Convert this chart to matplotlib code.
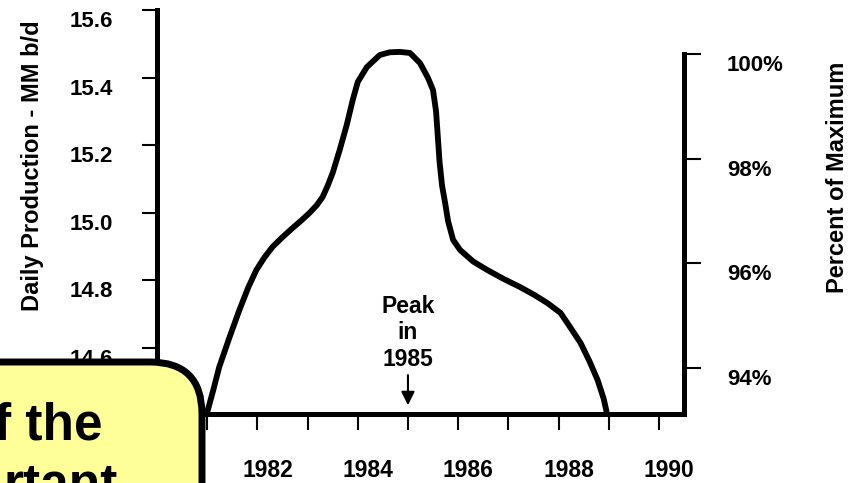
import matplotlib
matplotlib.use("Agg")
import matplotlib.pyplot as plt
import matplotlib.transforms as mtransforms
from matplotlib.patches import FancyBboxPatch

plt.rcParams['font.family'] = ['Liberation Sans', 'DejaVu Sans']
plt.rcParams['font.weight'] = 'bold'

# ==========================================
# Data
# ==========================================

years = [1981.00, 1981.12, 1981.24, 1981.44, 1981.64, 1981.82, 1981.98, 1982.14,
         1982.30, 1982.50, 1982.70, 1982.88, 1983.04, 1983.18, 1983.30, 1983.40,
         1983.50, 1983.64, 1983.78, 1983.90, 1984.00, 1984.18, 1984.44, 1984.64,
         1984.84, 1985.04, 1985.24, 1985.40, 1985.50, 1985.56, 1985.60, 1985.63,
         1985.68, 1985.74, 1985.80, 1985.90, 1986.04, 1986.30, 1986.58, 1986.90,
         1987.24, 1987.52, 1987.78, 1988.04, 1988.24, 1988.44, 1988.62, 1988.78,
         1988.90, 1988.96]
production = [14.410, 14.475, 14.544, 14.630, 14.712, 14.780, 14.831, 14.868,
              14.899, 14.928, 14.955, 14.978, 15.000, 15.022, 15.047, 15.080,
              15.118, 15.186, 15.260, 15.334, 15.387, 15.431, 15.467, 15.475,
              15.476, 15.473, 15.443, 15.399, 15.363, 15.300, 15.215, 15.150,
              15.080, 15.030, 14.975, 14.920, 14.890, 14.856, 14.831, 14.805,
              14.780, 14.757, 14.733, 14.704, 14.660, 14.615, 14.560, 14.505,
              14.450, 14.410]

peak_value = 15.47          # 100% on the right axis
peak_year = 1985

left_ticks = [14.6, 14.8, 15.0, 15.2, 15.4, 15.6]
left_labels = ["14.6", "14.8", "15.0", "15.2", "15.4", "15.6"]
right_ticks = [94, 96, 98, 100]
right_labels = ["94%", "96%", "98%", "100%"]
x_ticks = [1981, 1982, 1983, 1984, 1985, 1986, 1987, 1988, 1989, 1990]
x_labels = ["", "1982", "", "1984", "", "1986", "", "1988", "", "1990"]

# ==========================================
# Figure
# ==========================================

W, H = 863, 483
fig = plt.figure(figsize=(W / 100, H / 100), dpi=100)
ax = fig.add_axes([157 / W, 1 - 414 / H, 527 / W, 404 / H])

ymin, ymax = 14.405, 15.6
ax.set_xlim(1980, 1990.5)
ax.set_ylim(ymin, ymax)

ax.plot(years, production, color='black', lw=4.2, solid_joinstyle='round',
        solid_capstyle='butt', zorder=3)

for side in ['top', 'right']:
    ax.spines[side].set_visible(False)
for side in ['left', 'bottom']:
    ax.spines[side].set_linewidth(3.6)

ax.set_yticks(left_ticks)
ax.set_yticklabels(left_labels)
ax.tick_params(axis='y', direction='out', length=11, width=1.5, pad=21,
               labelsize=16)
ax.set_xticks(x_ticks)
ax.set_xticklabels(x_labels)
ax.tick_params(axis='x', direction='out', length=11.5, width=1.5, pad=21,
               labelsize=16.5)

down = mtransforms.ScaledTranslation(0, -9 / 100, fig.dpi_scale_trans)
right = mtransforms.ScaledTranslation(10 / 100, 0, fig.dpi_scale_trans)
for lab in ax.get_yticklabels():
    lab.set_transform(lab.get_transform() + down)
for lab in ax.get_xticklabels():
    lab.set_transform(lab.get_transform() + right)

# right axis: percent of maximum
ax2 = ax.twinx()
ax2.set_ylim(ymin / peak_value * 100, ymax / peak_value * 100)
for side in ['top', 'left', 'bottom']:
    ax2.spines[side].set_visible(False)
ax2.spines['right'].set_linewidth(3.6)
ax2.spines['right'].set_bounds(ymin / peak_value * 100, 100)
ax2.set_yticks(right_ticks)
ax2.set_yticklabels(right_labels)
ax2.tick_params(axis='y', direction='out', length=12, width=1.5, pad=19,
                labelsize=16)
for lab in ax2.get_yticklabels():
    lab.set_transform(lab.get_transform() + down)

# axis titles
fig.text(32 / W, 1 - 166 / H, "Daily Production - MM b/d", rotation=90,
         ha='center', va='center', fontsize=17, fontweight='bold')
fig.text(837 / W, 1 - 177 / H, "Percent of Maximum", rotation=90,
         ha='center', va='center', fontsize=17, fontweight='bold')

# peak annotation
ax.text(peak_year, 14.645, "Peak\nin\n1985", ha='center', va='center',
        fontsize=16.5, fontweight='bold')
ax.annotate('', xy=(peak_year, 14.431), xytext=(peak_year, 14.52),
            arrowprops=dict(arrowstyle='-|>', color='black', lw=1.5,
                            mutation_scale=20, shrinkA=0, shrinkB=0))

# yellow call-out box covering the lower left
box = FancyBboxPatch((-80, -90), 282, 211,
                     boxstyle="round,pad=0,rounding_size=52",
                     transform=None, facecolor='#ffff99', edgecolor='black',
                     linewidth=5, zorder=10)
fig.add_artist(box)
fig.text(102 / W, 1 - 440 / H, "f the", ha='right', va='baseline',
         fontsize=37, fontweight='bold', zorder=11)
fig.text(118 / W, 1 - 499 / H, "rtant", ha='right', va='baseline',
         fontsize=37, fontweight='bold', zorder=11)

fig.savefig("out.png", dpi=100)
